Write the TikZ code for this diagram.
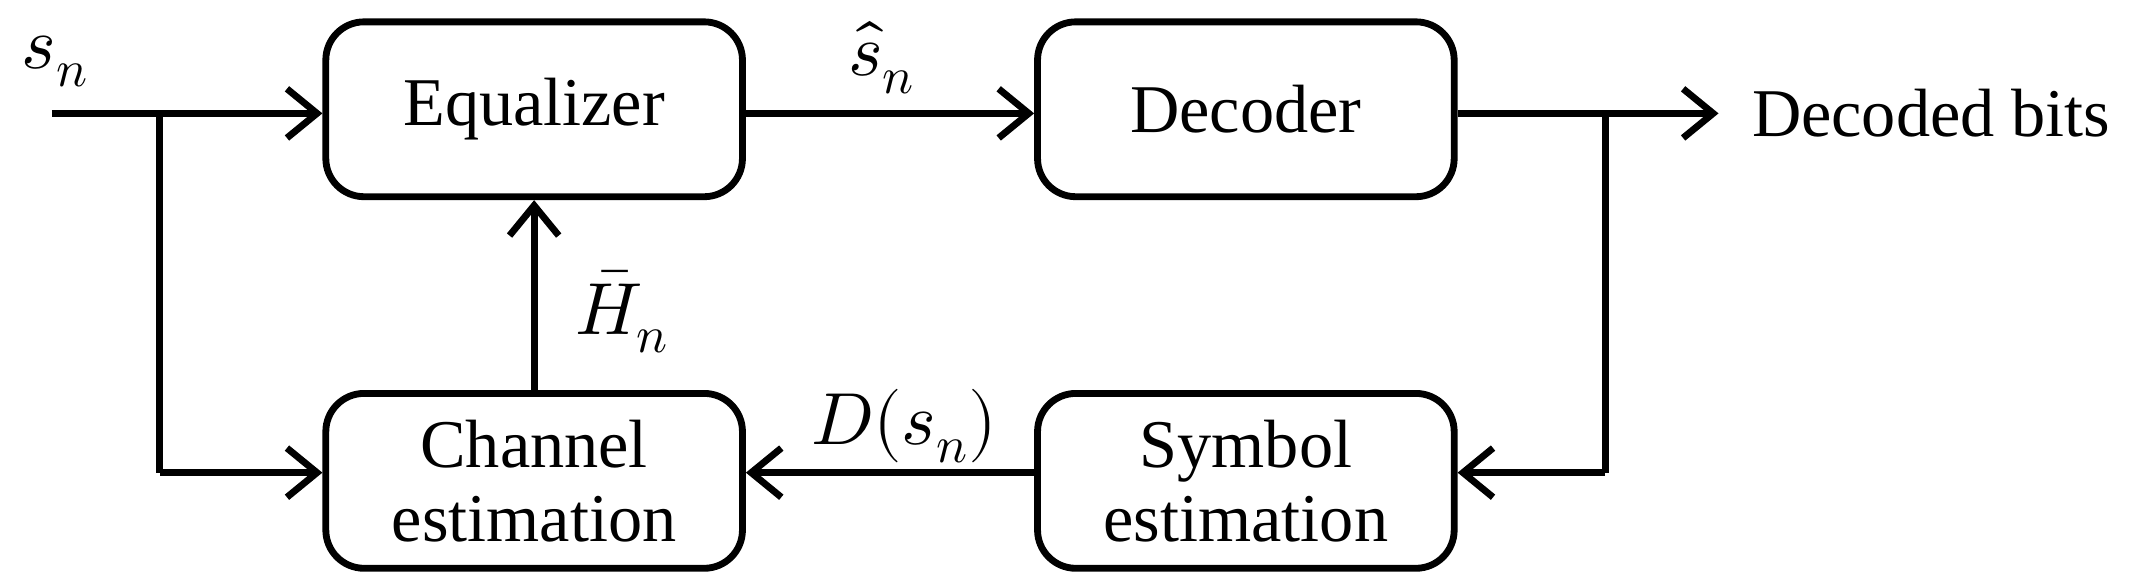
\documentclass[tikz,border=0pt]{standalone}
\usepackage{unicode-math}
\setmainfont{Liberation Serif}
\setmathfont{Latin Modern Math}
\usetikzlibrary{arrows.meta}
\begin{document}
\begin{tikzpicture}[x=1pt,y=-1pt,
  box/.style={draw,line width=5pt,rounded corners=28pt,minimum width=305pt,minimum height=128pt,align=center,font=\fontsize{50}{54}\selectfont,inner sep=0pt},
  lab/.style={font=\fontsize{54}{58}\selectfont},
  con/.style={line width=5pt,-{Straight Barb[length=22pt,width=36pt,line width=5pt]}},
  ln/.style={line width=5pt}]
\useasboundingbox (0,0) rectangle (1568,430);
\node[box] (eq) at (391,80) {Equalizer};
\node[box] (dec) at (912,80) {Decoder};
\node[box] (ch) at (391,352) {Channel\\estimation};
\node[box] (sym) at (912,352) {Symbol\\estimation};
\coordinate (in) at (38,83);
\coordinate (b1) at (117,83);
\coordinate (b1d) at (117,346);
\coordinate (out) at (1258,83);
\coordinate (b2) at (1175,83);
\coordinate (b2d) at (1175,346);
\draw[con] (in) -- (eq.west|-in);
\draw[ln] (b1) -- (b1d);
\draw[con] (b1d) -- (ch.west|-b1d);
\draw[con] (eq.east|-in) -- (dec.west|-in);
\draw[con] (dec.east|-in) -- (out);
\draw[ln] (b2) -- (b2d);
\draw[con] (b2d) -- (sym.east|-b2d);
\draw[con] (sym.west|-b2d) -- (ch.east|-b2d);
\draw[con] (ch.north) -- (eq.south);
\node[box,draw=none,minimum width=0pt,minimum height=0pt,anchor=west] (db) at (1280,83) {Decoded bits};
\node[lab] (sn) at (40,45) {$s_n$};
\node[lab] (shat) at (645,42) {$\hat{s}_n$};
\node[lab] (hb) at (455,228) {$\bar{H}_n$};
\node[lab] (ds) at (662,312) {$D(s_n)$};
\end{tikzpicture}
\end{document}
